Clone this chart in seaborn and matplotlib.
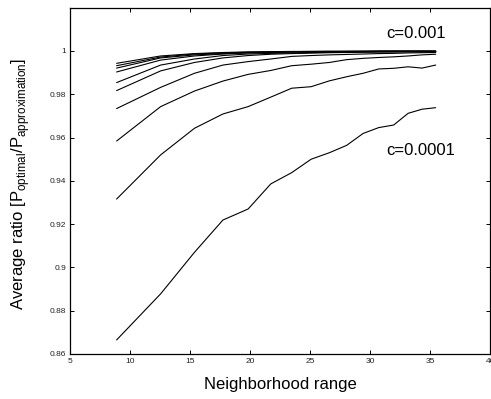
import matplotlib
matplotlib.use("Agg")
import matplotlib.pyplot as plt
import seaborn as sns
import pandas as pd

# Neighborhood range sample points (shared by all curves)
neighborhood = [8.86, 12.53, 15.35, 17.72, 19.82, 21.71, 23.45, 25.07,
                26.59, 28.03, 29.40, 30.70, 31.95, 33.15, 34.31, 35.45]

# Average ratio curves, from c=0.0001 (lowest) up to c=0.001 (highest)
ratio_c1 = [0.8665, 0.8878, 0.9070, 0.9219, 0.9270, 0.9386, 0.9438, 0.9500,
            0.9530, 0.9564, 0.9619, 0.9646, 0.9658, 0.9712, 0.9731, 0.9738]
ratio_c2 = [0.9316, 0.9520, 0.9643, 0.9709, 0.9743, 0.9787, 0.9828, 0.9835,
            0.9862, 0.9881, 0.9897, 0.9917, 0.9920, 0.9927, 0.9921, 0.9935]
ratio_c3 = [0.9584, 0.9743, 0.9815, 0.9861, 0.9892, 0.9910, 0.9932, 0.9939,
            0.9947, 0.9960, 0.9966, 0.9970, 0.9973, 0.9977, 0.9982, 0.9985]
ratio_c4 = [0.9734, 0.9832, 0.9897, 0.9935, 0.9951, 0.9963, 0.9975, 0.9979,
            0.9982, 0.9984, 0.9986, 0.9988, 0.9989, 0.9991, 0.9992, 0.9993]
ratio_c5 = [0.9817, 0.9908, 0.9947, 0.9968, 0.9979, 0.9985, 0.9988, 0.9990,
            0.9992, 0.9993, 0.9994, 0.9995, 0.9995, 0.9996, 0.9996, 0.9996]
ratio_c6 = [0.9854, 0.9935, 0.9963, 0.9979, 0.9986, 0.9989, 0.9991, 0.9993,
            0.9994, 0.9995, 0.9996, 0.9996, 0.9997, 0.9997, 0.9997, 0.9997]
ratio_c7 = [0.9903, 0.9958, 0.9977, 0.9986, 0.9991, 0.9993, 0.9995, 0.9996,
            0.9996, 0.9997, 0.9997, 0.9998, 0.9998, 0.9998, 0.9998, 0.9998]
ratio_c8 = [0.9921, 0.9968, 0.9982, 0.9988, 0.9992, 0.9994, 0.9996, 0.9997,
            0.9997, 0.9998, 0.9998, 0.9998, 0.9999, 0.9999, 0.9999, 0.9999]
ratio_c9 = [0.9932, 0.9972, 0.9986, 0.9991, 0.9994, 0.9996, 0.9997, 0.9998,
            0.9998, 0.9998, 0.9999, 0.9999, 0.9999, 0.9999, 0.9999, 0.9999]
ratio_c10 = [0.9943, 0.9977, 0.9988, 0.9993, 0.9996, 0.9997, 0.9998, 0.9998,
             0.9999, 0.9999, 0.9999, 1.0000, 1.0000, 1.0000, 1.0000, 1.0000]

series = [ratio_c1, ratio_c2, ratio_c3, ratio_c4, ratio_c5,
          ratio_c6, ratio_c7, ratio_c8, ratio_c9, ratio_c10]

x_ticks = [5, 10, 15, 20, 25, 30, 35, 40]
y_ticks = [0.86, 0.88, 0.9, 0.92, 0.94, 0.96, 0.98, 1.0]
y_tick_labels = ["0.86", "0.88", "0.9", "0.92", "0.94", "0.96", "0.98", "1"]

label_high = "c=0.001"
label_low = "c=0.0001"

rows = []
for i, s in enumerate(series):
    for xv, yv in zip(neighborhood, s):
        rows.append({"x": xv, "ratio": yv, "curve": i})
df = pd.DataFrame(rows)

sns.set_style("white")
plt.rcParams["font.family"] = ["Liberation Sans", "DejaVu Sans"]
plt.rcParams["text.color"] = "black"
plt.rcParams["axes.labelcolor"] = "black"

fig = plt.figure(figsize=(4.91, 3.99), dpi=100)
ax = fig.add_axes([70.3 / 491, 45 / 399, 420 / 491, 346.3 / 399])

sns.lineplot(data=df, x="x", y="ratio", units="curve", estimator=None,
             color="black", lw=0.8, ax=ax, legend=False)

ax.set_xlim(5, 40)
ax.set_ylim(0.86, 1.02)
ax.set_xticks(x_ticks)
ax.set_xticklabels([str(t) for t in x_ticks])
ax.set_yticks(y_ticks)
ax.set_yticklabels(y_tick_labels)

for sp in ax.spines.values():
    sp.set_visible(True)
    sp.set_color("black")
    sp.set_linewidth(0.9)

ax.tick_params(axis="both", which="both", direction="in", length=3,
               width=0.7, color="black", labelsize=6, labelcolor="#222222",
               top=True, right=True, bottom=True, left=True, pad=3)

ax.set_xlabel("Neighborhood range", fontsize=12)
ax.set_ylabel(r"Average ratio [P$_{\mathregular{optimal}}$/P$_{\mathregular{approximation}}$]",
              fontsize=12)
ax.xaxis.set_label_coords(0.5, -0.065)
ax.yaxis.set_label_coords(-0.09, 0.49)

ax.text(31.3, 1.0083, label_high, fontsize=12, va="center", ha="left")
ax.text(31.3, 0.954, label_low, fontsize=12, va="center", ha="left")

fig.savefig("out.png", dpi=100)
